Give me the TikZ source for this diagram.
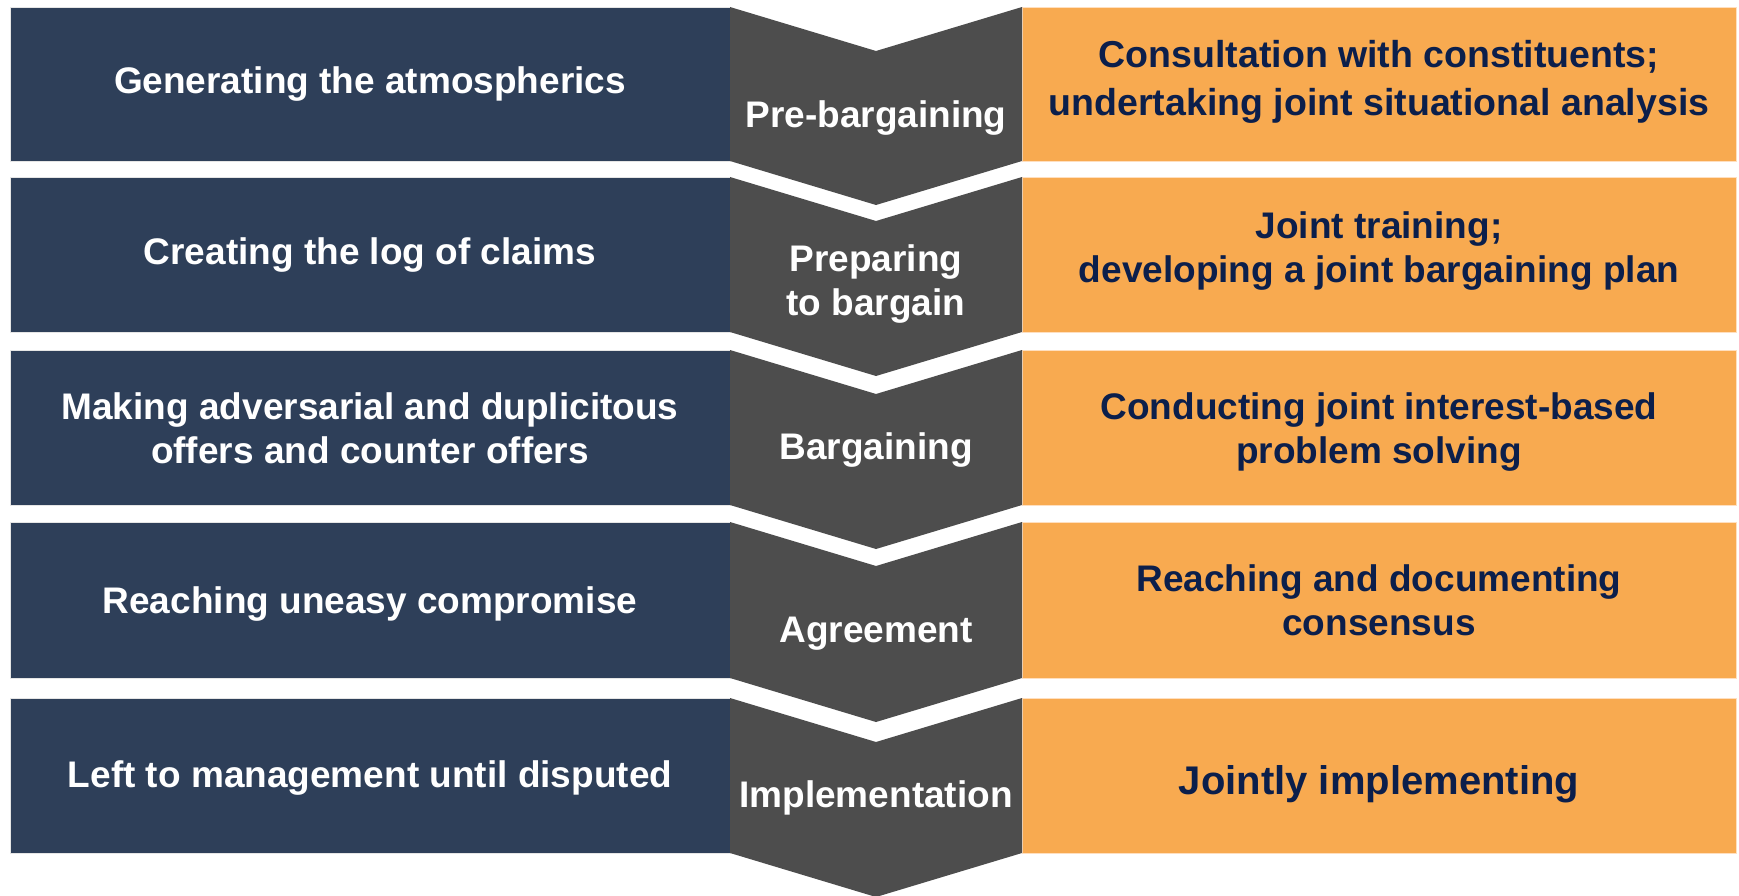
\documentclass[tikz,border=0pt]{standalone}
\usepackage{fontspec}
\setmainfont{Liberation Sans}
\definecolor{navybox}{HTML}{2E3F59}
\definecolor{greychev}{HTML}{4D4D4D}
\definecolor{orangebox}{HTML}{F8AA50}
\definecolor{navytext}{HTML}{0C1F4B}
\begin{document}
\begin{tikzpicture}[x=1pt,y=-1pt,
  boxbase/.style={line width=1.2pt, inner sep=0pt, anchor=north west},
  leftbox/.style={boxbase, fill=navybox, draw=black!10, minimum width=720pt},
  rightbox/.style={boxbase, fill=orangebox, draw=orange!25, minimum width=714pt},
  chev/.style={fill=greychev},
  txt/.style={font=\bfseries\fontsize{37}{44}\selectfont, align=center, inner sep=0pt},
  lefttext/.style={txt, text=white},
  midtext/.style={txt, text=white},
  righttext/.style={txt, text=navytext}]
\useasboundingbox (0,0) rectangle (1739,896);
\fill[white] (0,0) rectangle (1739,896);
% boxes
\node[leftbox, minimum height=154pt] (lb1) at (10,7) {};
\node[leftbox, minimum height=155pt] (lb2) at (10,177) {};
\node[leftbox, minimum height=155pt] (lb3) at (10,350) {};
\node[leftbox, minimum height=156pt] (lb4) at (10,522) {};
\node[leftbox, minimum height=155pt] (lb5) at (10,698) {};
\node[rightbox, minimum height=154pt] (rb1) at (1022,7) {};
\node[rightbox, minimum height=155pt] (rb2) at (1022,177) {};
\node[rightbox, minimum height=155pt] (rb3) at (1022,350) {};
\node[rightbox, minimum height=156pt] (rb4) at (1022,522) {};
\node[rightbox, minimum height=155pt] (rb5) at (1022,698) {};
% chevrons
\fill[chev] (730,7) -- (876,51) -- (1022,7) -- (1022,161) -- (876,205) -- (730,161) -- cycle;
\fill[chev] (730,177) -- (876,221) -- (1022,177) -- (1022,332) -- (876,376) -- (730,332) -- cycle;
\fill[chev] (730,350) -- (876,394) -- (1022,350) -- (1022,505) -- (876,549) -- (730,505) -- cycle;
\fill[chev] (730,522) -- (876,566) -- (1022,522) -- (1022,678) -- (876,722) -- (730,678) -- cycle;
\fill[chev] (730,698) -- (876,742) -- (1022,698) -- (1022,853) -- (876,897) -- (730,853) -- cycle;
% left texts
\node[lefttext] (lt1) at (370,84) {Generating the atmospherics};
\node[lefttext] (lt2) at (370,255) {Creating the log of claims};
\node[lefttext] (lt3) at (370,428) {Making adversarial and duplicitous\\offers and counter offers};
\node[lefttext] (lt4) at (370,604) {Reaching uneasy compromise};
\node[lefttext] (lt5) at (370,778) {Left to management until disputed};
% middle texts
\node[midtext] (mt1) at (876,118) {Pre-bargaining};
\node[midtext] (mt2) at (876,284) {Preparing\\to bargain};
\node[midtext] (mt3) at (876,450) {Bargaining};
\node[midtext] (mt4) at (876,634) {Agreement};
\node[midtext] (mt5) at (876,798) {Implementation};
% right texts
\node[righttext, font=\bfseries\fontsize{37.5}{48}\selectfont] (rt1) at (1379,82) {Consultation with constituents;\\undertaking joint situational analysis};
\node[righttext] (rt2) at (1379,251) {Joint training;\\developing a joint bargaining plan};
\node[righttext] (rt3) at (1379,432) {Conducting joint interest-based\\problem solving};
\node[righttext] (rt4) at (1379,600) {Reaching and documenting\\consensus};
\node[righttext, font=\bfseries\fontsize{40}{46}\selectfont] (rt5) at (1379,784) {Jointly implementing};
\end{tikzpicture}
\end{document}
